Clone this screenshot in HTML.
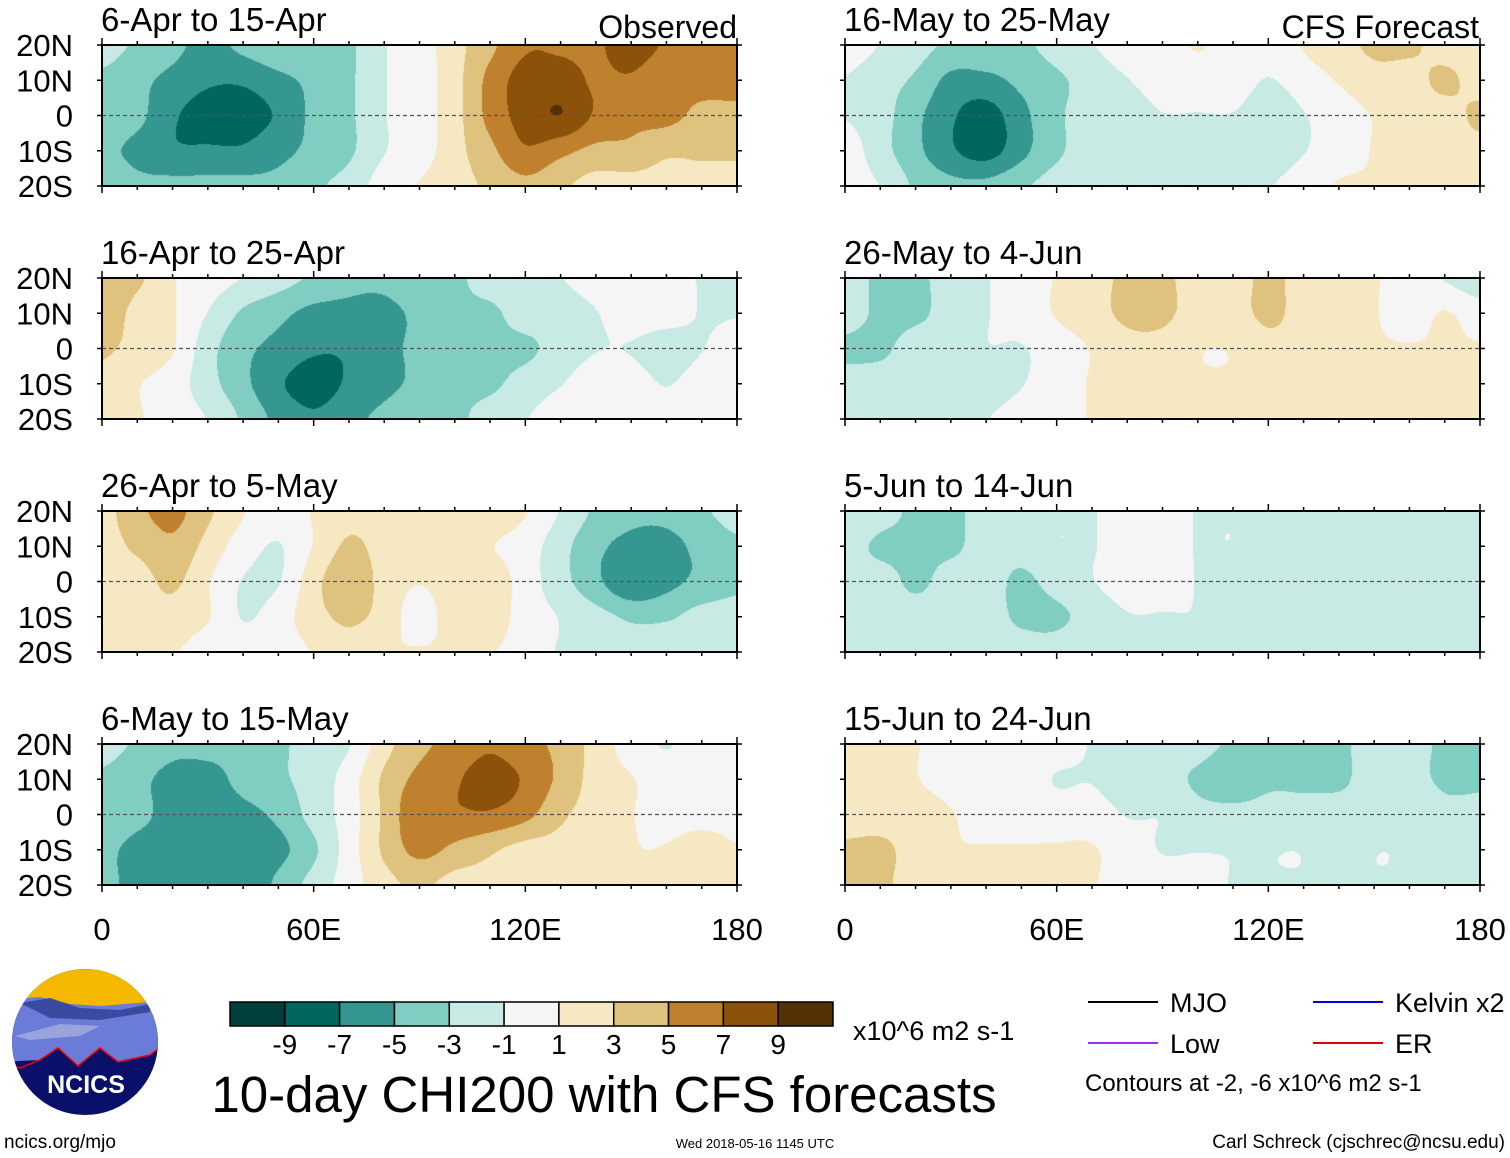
<!DOCTYPE html>
<html><head><meta charset="utf-8">
<style>
body{margin:0;background:#fff;}
#root{position:relative;width:1510px;height:1158px;overflow:hidden;font-family:"Liberation Sans",sans-serif;}
canvas{position:absolute;}
svg{position:absolute;left:0;top:0;}
</style></head>
<body>
<div id="root">
<svg id="ov" width="1510" height="1158"></svg>
</div>
<script>
const levels=[-9,-7,-5,-3,-1,1,3,5,7,9];
const levelColors=["#01403a","#01665e","#35978f","#80cdc1","#c7eae5","#f5f5f5","#f6e8c3","#dfc27d","#bf812d","#8c510a","#543005"];
const lonTicks=["0","60E","120E","180"];
const latTicks=["20N","10N","0","10S","20S"];
const titles=["6-Apr to 15-Apr","16-Apr to 25-Apr","26-Apr to 5-May","6-May to 15-May","16-May to 25-May","26-May to 4-Jun","5-Jun to 14-Jun","15-Jun to 24-Jun"];
const p1=[[-2,-3,-4,-5,-4,-3,-3,-3,-1,0,2,4,6,6,6,7,6,5,5],[-3,-4,-5,-6,-6,-5,-4,-3,-1,0,2,5,7,7,6,6,5,5,5],[-3,-4,-6,-7,-7,-6,-4,-3,-1,0,2,5,7,8,6,5,5,4,4],[-4,-5,-6,-6,-6,-5,-4,-3,-1,0,2,4,6,5,4,4,3,3,3],[-3,-4,-4,-4,-4,-4,-3,-2,0,1,2,3,4,3,2,2,2,2,2]];
const p2=[[4,3,1,0,-1,-2,-3,-4,-4,-3,-3,-2,-2,-1,0,0,0,-1,-1],[4,2,1,-1,-3,-4,-5,-5,-5,-4,-3,-3,-2,-2,-1,0,0,-1,-1],[3,2,1,-2,-4,-5,-6,-6,-5,-4,-3,-3,-3,-2,-1,-1,-2,-1,0],[2,1,0,-2,-4,-6,-7,-6,-5,-4,-3,-3,-2,-1,0,0,-1,0,0],[1,1,0,-1,-3,-5,-6,-5,-4,-3,-3,-2,-1,0,0,0,0,0,0]];
const p3=[[2,4,5,3,1,0,1,2,2,2,2,2,1,-1,-3,-4,-4,-3,-2],[2,3,4,2,0,-1,1,3,2,2,2,1,0,-2,-4,-5,-5,-4,-3],[2,2,3,1,-1,-1,2,4,2,1,2,2,0,-2,-4,-6,-5,-4,-3],[1,2,2,1,-1,0,2,3,2,0,2,2,0,-1,-2,-3,-3,-2,-2],[1,1,1,0,0,0,1,2,1,1,1,1,0,-1,-1,-2,-1,-1,-1]];
const p4=[[-2,-3,-4,-4,-4,-3,-2,-1,2,4,5,6,5,4,2,0,-1,0,0],[-3,-4,-5,-5,-4,-3,-2,0,3,5,6,7,6,4,2,1,0,0,0],[-3,-4,-5,-5,-5,-4,-2,0,3,6,6,6,5,3,2,1,0,0,0],[-4,-5,-5,-5,-6,-5,-3,0,3,5,4,3,2,2,2,1,1,2,1],[-4,-5,-5,-5,-6,-4,-2,0,2,3,2,2,1,1,1,1,1,2,1]];
const p5=[[0,-1,-2,-3,-3,-3,-2,-1,0,0,1,0,0,1,2,3,3,2,2],[-1,-2,-3,-5,-5,-4,-3,-2,-1,0,0,0,-1,0,1,2,2,3,2],[-1,-2,-4,-6,-7,-5,-3,-2,-2,-1,-1,-1,-2,-1,0,1,2,2,3],[0,-2,-4,-6,-7,-5,-3,-2,-2,-2,-2,-2,-2,-1,0,1,2,2,2],[0,-1,-3,-4,-4,-3,-2,-2,-1,-1,-1,-1,-1,0,1,1,1,1,1]];
const p6=[[-2,-3,-3,-2,-1,0,1,2,3,3,2,2,3,2,1,1,0,-1,-2],[-2,-3,-3,-2,-1,0,1,2,3,3,2,2,3,2,1,1,0,1,0],[-3,-3,-2,-2,-1,-1,0,1,2,2,1,1,2,2,1,1,1,1,1],[-2,-2,-2,-2,-2,-1,0,1,1,1,1,1,1,1,1,1,1,1,1],[-1,-2,-2,-2,-1,0,0,1,1,1,1,1,1,1,1,1,1,1,1]];
const p7=[[-1,-2,-3,-3,-2,-1,-1,-1,0,0,-1,-1,-1,-2,-2,-2,-2,-2,-2],[-2,-3,-3,-3,-2,-2,-1,-1,0,0,-1,-1,-2,-2,-2,-2,-2,-2,-2],[-2,-2,-3,-2,-2,-3,-2,-1,0,0,-1,-2,-2,-2,-2,-2,-2,-2,-2],[-2,-2,-2,-2,-2,-3,-3,-2,-1,-1,-1,-2,-2,-2,-2,-2,-2,-2,-1],[-1,-2,-2,-2,-2,-2,-2,-1,-1,-1,-1,-1,-1,-1,-1,-1,-1,-1,-1]];
const p8=[[1,2,1,0,0,0,0,-1,-1,-2,-2,-3,-3,-3,-3,-2,-2,-3,-3],[2,2,1,0,0,0,-1,-1,-2,-2,-3,-4,-3,-3,-3,-2,-2,-3,-3],[2,2,2,1,0,0,0,0,-1,-1,-2,-2,-2,-2,-2,-2,-1,-2,-2],[3,3,2,1,1,1,1,1,0,-1,-1,-1,-1,-1,-2,-1,-1,-1,-1],[4,3,2,1,1,1,1,1,0,0,0,-1,-1,-1,-1,-1,-1,-1,-1]];
const fields=[p1,p2,p3,p4,p5,p6,p7,p8];

const root=document.getElementById('root');
const ov=document.getElementById('ov');
const NS='http://www.w3.org/2000/svg';
function mk(tag,attrs,parent){const e=document.createElementNS(NS,tag);for(const k in attrs)e.setAttribute(k,attrs[k]);(parent||ov).appendChild(e);return e;}
function txt(x,y,s,size,anchor,parent){const t=mk('text',{x:x,y:y,'font-size':size,'text-anchor':anchor||'start','font-family':'Liberation Sans, sans-serif',fill:'#000'},parent);t.textContent=s;return t;}
function hex(c){return [parseInt(c.substr(1,2),16),parseInt(c.substr(3,2),16),parseInt(c.substr(5,2),16)];}
const rgbs=levelColors.map(hex);
function colorIdx(v){let i=0;while(i<levels.length&&v>=levels[i])i++;return i;}
function cr(p0,p1,p2,p3,t){return p1+0.5*t*(p2-p0+t*(2*p0-5*p1+4*p2-p3+t*(3*(p1-p2)+p3-p0)));}

const PW=635,PH=141;
const lefts=[102,845],tops=[45,278,511,744];
function xScale(lon,x0){return x0+lon/180*PW;}
function yScale(lat,y0){return y0+(20-lat)/40*PH;}

fields.forEach((f,pi)=>{
  const col=pi<4?0:1,row=pi%4;
  const x0=lefts[col],y0=tops[row];
  const cv=document.createElement('canvas');
  cv.width=PW;cv.height=PH;cv.style.left=x0+'px';cv.style.top=y0+'px';
  
  
  root.insertBefore(cv,ov);
  const ctx=cv.getContext('2d');const img=ctx.createImageData(PW,PH);
  const nx=f[0].length-1,ny=f.length-1;
  const G=(j,i)=>f[Math.max(0,Math.min(ny,j))][Math.max(0,Math.min(nx,i))];
  for(let py=0;py<PH;py++){const gy=py/(PH-1)*ny;const j=Math.min(ny-1,Math.floor(gy));const ty=gy-j;
    for(let px=0;px<PW;px++){const gx=px/(PW-1)*nx;const i=Math.min(nx-1,Math.floor(gx));const tx=gx-i;
      const r=[];for(let dj=-1;dj<=2;dj++)r.push(cr(G(j+dj,i-1),G(j+dj,i),G(j+dj,i+1),G(j+dj,i+2),tx));
      const v=cr(r[0],r[1],r[2],r[3],ty)*1.12+0.013;
      const c=rgbs[colorIdx(v)];const k=(py*PW+px)*4;img.data[k]=c[0];img.data[k+1]=c[1];img.data[k+2]=c[2];img.data[k+3]=255;}}
  ctx.putImageData(img,0,0);
  const g=mk('g',{});
  
  
  mk('line',{x1:x0,x2:x0+PW,y1:yScale(0,y0),y2:yScale(0,y0),stroke:'#555','stroke-width':1.2,'stroke-dasharray':'4,3'},g);
  mk('rect',{x:x0,y:y0,width:PW,height:PH,fill:'none',stroke:'#000','stroke-width':2},g);
  for(let lon=0;lon<=180;lon+=10){const x=xScale(lon,x0);const L=lon%60==0?7:4;
    mk('line',{x1:x,x2:x,y1:y0,y2:y0-L,stroke:'#000','stroke-width':1.5},g);
    mk('line',{x1:x,x2:x,y1:y0+PH,y2:y0+PH+L,stroke:'#000','stroke-width':1.5},g);}
  for(let lat=-20;lat<=20;lat+=10){const y=yScale(lat,y0);
    mk('line',{x1:x0,x2:x0-5,y1:y,y2:y,stroke:'#000','stroke-width':1.5},g);
    mk('line',{x1:x0+PW,x2:x0+PW+5,y1:y,y2:y,stroke:'#000','stroke-width':1.5},g);}
  const t=txt(x0-1,y0-14,titles[pi],33,'start',g);
  
  if(col==0){latTicks.forEach((s,i)=>{const tt=txt(73,y0+i*PH/4+11,s,31,'end',g);
    });}
});
{const t=txt(737,38,'Observed',32,'end');}
{const t=txt(1479,38,'CFS Forecast',32,'end');}
[0,1].forEach(c=>{lonTicks.forEach((s,i)=>{const t=txt(xScale(i*60,lefts[c]),940,s,31,'middle');
  });});

const cb=mk('g',{});


const bw=603/11;
levelColors.forEach((c,i)=>{mk('rect',{x:230+i*bw,y:1002,width:bw,height:24,fill:c,stroke:'#000','stroke-width':1.5},cb);});
[-9,-7,-5,-3,-1,1,3,5,7,9].forEach((v,i)=>{txt(230+(i+1)*bw,1054,String(v),28,'middle',cb);});
txt(853,1040,'x10^6 m2 s-1',27,'start',cb);
{const t=txt(604,1112,'10-day CHI200 with CFS forecasts',51,'middle');}

const lg=mk('g',{});


[['MJO','#000',1088,1002],['Kelvin x2','#0000ee',1313,1002],['Low','#9a30e8',1088,1043],['ER','#e00000',1313,1043]].forEach(d=>{
  mk('line',{x1:d[2],x2:d[2]+70,y1:d[3],y2:d[3],stroke:d[1],'stroke-width':2},lg);
  txt(d[2]+82,d[3]+10,d[0],27,'start',lg);});
txt(1085,1091,'Contours at -2, -6 x10^6 m2 s-1',24,'start',lg);

const lo=mk('g',{});


mk('clipPath',{id:'lc'},lo);
mk('circle',{cx:85,cy:1042,r:73},document.getElementById('lc'));
const lg2=mk('g',{'clip-path':'url(#lc)'},lo);
mk('rect',{x:0,y:960,width:170,height:170,fill:'#0a0f6a'},lg2);
mk('rect',{x:0,y:960,width:170,height:50,fill:'#f5b800'},lg2);
mk('path',{d:'M0,1000 L40,997 L70,1004 L100,1006 L150,1002 L170,1005 L170,1040 L150,1055 L118,1062 L100,1048 L78,1066 L58,1048 L40,1060 L0,1062Z',fill:'#6a7bd8'},lg2);
mk('path',{d:'M15,1036 L60,1024 L100,1026 L80,1036 L30,1040Z',fill:'#9aa3dc'},lg2);
mk('path',{d:'M20,1003 L50,998 L80,1008 L120,1010 L150,1004 L150,1012 L100,1020 L50,1018Z',fill:'#3a4aa0'},lg2);
mk('path',{d:'M0,1062 L20,1068 L40,1060 L58,1048 L78,1066 L100,1048 L118,1062 L150,1055 L170,1040',fill:'none',stroke:'#e00',"stroke-width":1.5},lg2);
{const t=txt(86,1093,'NCICS',25,'middle',lo);t.setAttribute('fill','#fff');t.setAttribute('font-weight','bold');}
{const t=txt(4,1148,'ncics.org/mjo',19,'start');}
{const t=txt(755,1148,'Wed 2018-05-16 1145 UTC',13,'middle');}
{const t=txt(1505,1148,'Carl Schreck (cjschrec@ncsu.edu)',19,'end');}
</script>
</body></html>
